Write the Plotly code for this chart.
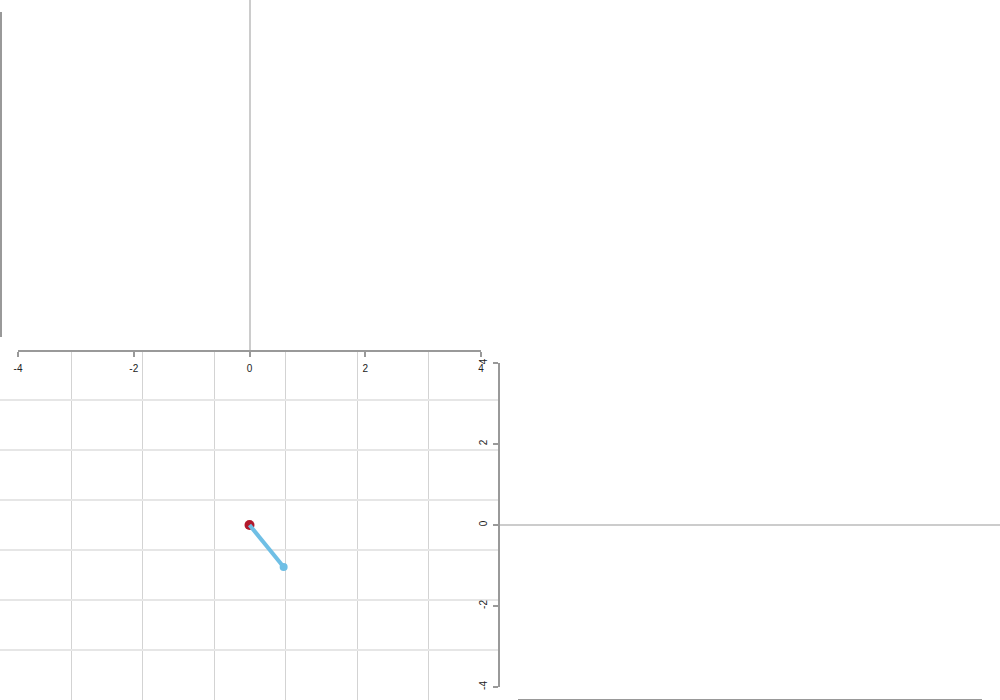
import plotly.graph_objects as go

# ---- data ----
origin_x = [0]
origin_y = [0]
vector_x = [0, 0.59]
vector_y = [0, -1.04]

axis_ticks = [-4, -2, 0, 2, 4]
axis_ticklabels = ["-4", "-2", "0", "2", "4"]

LINE = "#999999"
ZERO = "#cccccc"
FONT = dict(family="Liberation Sans, Arial, sans-serif", size=10, color="#222222")

fig = go.Figure()

# empty placeholder traces so every axis pair becomes a drawn subplot
for i in ["", "2", "3", "4", "5"]:
    fig.add_trace(go.Scatter(x=[None], y=[None], xaxis="x" + i, yaxis="y" + i,
                             mode="lines", showlegend=False, hoverinfo="skip"))

fig.add_trace(go.Scatter(
    x=origin_x, y=origin_y, xaxis="x6", yaxis="y6", mode="markers",
    marker=dict(size=10, color="#b2182b", line=dict(width=0)),
    showlegend=False, hoverinfo="skip"))
fig.add_trace(go.Scatter(
    x=vector_x, y=vector_y, xaxis="x6", yaxis="y6", mode="lines",
    line=dict(color="#6fbfe5", width=4),
    showlegend=False, hoverinfo="skip"))
fig.add_trace(go.Scatter(
    x=vector_x[1:], y=vector_y[1:], xaxis="x6", yaxis="y6", mode="markers",
    marker=dict(size=8, color="#6fbfe5"),
    showlegend=False, hoverinfo="skip"))

hidden = dict(visible=False, automargin=False)

fig.update_layout(
    width=1000, height=700,
    margin=dict(l=0, r=0, t=0, b=0, pad=0, autoexpand=False),
    paper_bgcolor="white", plot_bgcolor="rgba(0,0,0,0)",
    showlegend=False,
    # grid panel (bottom-left)
    xaxis=dict(domain=[0, 0.5], range=[-3.5, 3.5], tick0=0.5, dtick=1,
               showgrid=True, gridcolor="#d3d3d3", gridwidth=1,
               zeroline=False, showline=False, showticklabels=False, ticks="",
               anchor="y", automargin=False),
    yaxis=dict(domain=[0, 0.5], range=[-3.5, 3.5], tick0=0.5, dtick=1,
               showgrid=True, gridcolor="#e6e6e6", gridwidth=2,
               zeroline=False, showline=False, showticklabels=False, ticks="",
               anchor="x", automargin=False),
    # horizontal axis at y=350 with its zero line in the top panel
    xaxis2=dict(domain=[0.018, 0.481], range=[-4, 4], anchor="y2", side="bottom",
                tickvals=axis_ticks, ticktext=axis_ticklabels,
                showline=True, linecolor=LINE, linewidth=1.5,
                ticks="outside", ticklen=5, tickcolor=LINE, tickwidth=1.5,
                ticklabelstandoff=3,
                showgrid=False, zeroline=True, zerolinecolor=ZERO, zerolinewidth=2,
                tickfont=FONT, automargin=False),
    yaxis2=dict(domain=[0.5, 1.0], range=[0, 1], anchor="x2", **hidden),
    # vertical axis at x=500 with its zero line in the right panel
    xaxis3=dict(domain=[0.5, 1.0], range=[0, 1], anchor="y3", **hidden),
    yaxis3=dict(domain=[0.0186, 0.4814], range=[-4, 4], anchor="x3", side="left",
                tickvals=axis_ticks, ticktext=axis_ticklabels, tickangle=-90,
                showline=True, linecolor=LINE, linewidth=1.5,
                ticks="outside", ticklen=5, tickcolor=LINE, tickwidth=1.5,
                ticklabelstandoff=2,
                showgrid=False, zeroline=True, zerolinecolor=ZERO, zerolinewidth=2,
                tickfont=FONT, automargin=False),
    # top-left axis line at the left edge
    xaxis4=dict(domain=[0.0015, 0.5], range=[0, 1], anchor="y4", **hidden),
    yaxis4=dict(domain=[0.5186, 0.9829], range=[0, 5], dtick=1, anchor="x4", side="left",
                showline=True, linecolor=LINE, linewidth=1.5,
                ticks="outside", ticklen=5, tickcolor=LINE, tickwidth=1.5,
                showgrid=False, zeroline=False, showticklabels=False, automargin=False),
    # bottom-right axis line at the bottom edge
    xaxis5=dict(domain=[0.518, 0.982], range=[0, 5], dtick=1, anchor="y5", side="bottom",
                showline=True, linecolor=LINE, linewidth=1.5,
                ticks="outside", ticklen=5, tickcolor=LINE, tickwidth=1.5,
                showgrid=False, zeroline=False, showticklabels=False, automargin=False),
    yaxis5=dict(domain=[0.0014, 0.5], range=[0, 1], anchor="x5", **hidden),
    # data axes (invisible)
    xaxis6=dict(domain=[0.018, 0.481], range=[-4, 4], anchor="y6", **hidden),
    yaxis6=dict(domain=[0.0186, 0.4814], range=[-4, 4], anchor="x6", **hidden),
)

fig.write_html("out.html")
